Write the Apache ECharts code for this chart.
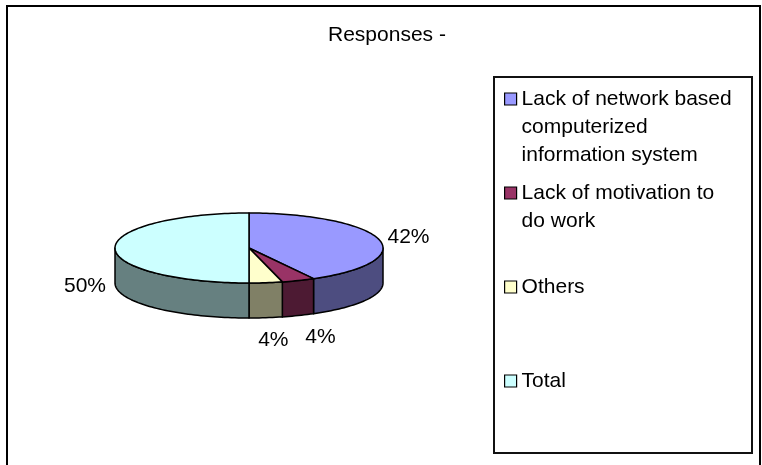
<!DOCTYPE html>
<html>
<head>
<meta charset="utf-8">
<title>Responses</title>
<script src="https://cdn.jsdelivr.net/npm/echarts@6/dist/echarts.min.js"></script>
<style>
  html, body { margin: 0; padding: 0; background: #ffffff; }
  #chart { width: 762px; height: 465px; }
</style>
</head>
<body>
<div id="chart"></div>
<script>
// Categories and response shares (percent)
const categories = [
  'Lack of network based computerized information system',
  'Lack of motivation to do work',
  'Others',
  'Total'
];
const values = [42, 4, 4, 50];

// Face colours of the slices and the darker colours of their walls
const topColors = ['#9999FF', '#993366', '#FFFFCC', '#CCFFFF'];
const sideColors = ['#4D4D80', '#4D1A33', '#808066', '#668080'];

const FONT = '"Liberation Sans", Arial, sans-serif';
const FONT_SIZE = 21;

// Geometry of the tilted pie (ellipse centre, radii and wall height)
const PIE = { cx: 249, cy: 248, rx: 134, ry: 35, depth: 35 };

const total = values.reduce((a, b) => a + b, 0);
const starts = [];
(function () {
  let acc = 0;
  values.forEach(v => { starts.push(acc / total * Math.PI * 2); acc += v; });
})();

// Point on the rim, angle measured clockwise from 12 o'clock
function rimPoint(a, dy) {
  return [PIE.cx + PIE.rx * Math.sin(a), PIE.cy - PIE.ry * Math.cos(a) + (dy || 0)];
}
function rimArc(a0, a1, dy) {
  const n = Math.max(2, Math.ceil((a1 - a0) / (Math.PI / 120)));
  const pts = [];
  for (let i = 0; i <= n; i++) pts.push(rimPoint(a0 + (a1 - a0) * i / n, dy));
  return pts;
}

function renderSlice(idx) {
  return function (params, api) {
    const v = api.value(0);
    const a0 = starts[idx];
    const a1 = a0 + v / total * Math.PI * 2;
    const children = [];
    const edge = { stroke: '#000', lineWidth: 1.5, lineJoin: 'round' };

    // front wall: only the part of the rim facing the viewer
    const s = Math.max(a0, Math.PI / 2);
    const e = Math.min(a1, Math.PI * 1.5);
    if (e > s) {
      const upper = rimArc(s, e, 0);
      const lower = rimArc(s, e, PIE.depth).reverse();
      children.push({
        type: 'polygon',
        shape: { points: upper.concat(lower) },
        style: Object.assign({ fill: sideColors[idx] }, edge)
      });
    }

    // top face
    children.push({
      type: 'polygon',
      shape: { points: [[PIE.cx, PIE.cy]].concat(rimArc(a0, a1, 0)) },
      style: Object.assign({ fill: api.visual('color') }, edge)
    });

    // percentage label outside the rim
    const m = (a0 + a1) / 2;
    const sn = Math.sin(m), cs = Math.cos(m);
    const align = sn > 0.5 ? 'left' : (sn < -0.5 ? 'right' : 'center');
    const valign = cs > 0.5 ? 'bottom' : (cs < -0.5 ? 'top' : 'middle');
    const gap = 9;
    const lx = align === 'center' ? PIE.cx + PIE.rx * 1.45 * sn : PIE.cx + (PIE.rx + gap) * sn;
    const ly = PIE.cy - (PIE.ry + gap) * cs + (cs < 0.15 ? PIE.depth + 3 : 0);
    children.push({
      type: 'text',
      x: lx,
      y: ly,
      style: {
        text: Math.round(v / total * 100) + '%',
        align: align,
        verticalAlign: valign,
        font: FONT_SIZE + 'px ' + FONT,
        fill: '#000'
      }
    });

    return { type: 'group', children: children };
  };
}

// Word-wrap legend names to the legend box width
const measureCtx = document.createElement('canvas').getContext('2d');
measureCtx.font = FONT_SIZE + 'px ' + FONT;
function wrapName(name, maxWidth) {
  const words = name.split(' ');
  const lines = [];
  let cur = '';
  words.forEach(w => {
    const trial = cur ? cur + ' ' + w : w;
    if (cur && measureCtx.measureText(trial).width > maxWidth) {
      lines.push(cur);
      cur = w;
    } else {
      cur = trial;
    }
  });
  if (cur) lines.push(cur);
  return lines;
}

const chart = echarts.init(document.getElementById('chart'), null, { renderer: 'canvas' });

chart.setOption({
  animation: false,
  backgroundColor: '#ffffff',
  title: {
    text: 'Responses -',
    left: 328,
    top: 25,
    padding: 0,
    textStyle: { fontFamily: FONT, fontSize: FONT_SIZE, fontWeight: 'normal', color: '#000' }
  },
  legend: {
    orient: 'vertical',
    left: 504,
    top: 29,
    padding: 0,
    itemGap: -46,
    itemWidth: 12,
    itemHeight: 12,
    icon: 'rect',
    selectedMode: false,
    itemStyle: { borderColor: '#000', borderWidth: 1.2 },
    textStyle: { fontFamily: FONT, fontSize: FONT_SIZE, color: '#000', lineHeight: 28 },
    // each entry occupies five text rows with its first real line in the middle,
    // so the marker sits beside the first line
    formatter: function (name) {
      const lines = wrapName(name, 215);
      const rows = ['', ''].concat(lines);
      while (rows.length < 5) rows.push('');
      return rows.join('\n');
    },
    data: categories
  },
  graphic: [
    {
      type: 'rect',
      silent: true,
      shape: { x: 7, y: 6, width: 753, height: 480 },
      style: { fill: 'none', stroke: '#000', lineWidth: 2 }
    },
    {
      type: 'rect',
      silent: true,
      shape: { x: 494, y: 77, width: 258, height: 376 },
      style: { fill: 'none', stroke: '#111', lineWidth: 2 }
    }
  ],
  series: categories.map((name, i) => ({
    type: 'custom',
    name: name,
    coordinateSystem: 'none',
    silent: true,
    itemStyle: { color: topColors[i] },
    renderItem: renderSlice(i),
    data: [[values[i]]]
  }))
});
</script>
</body>
</html>
